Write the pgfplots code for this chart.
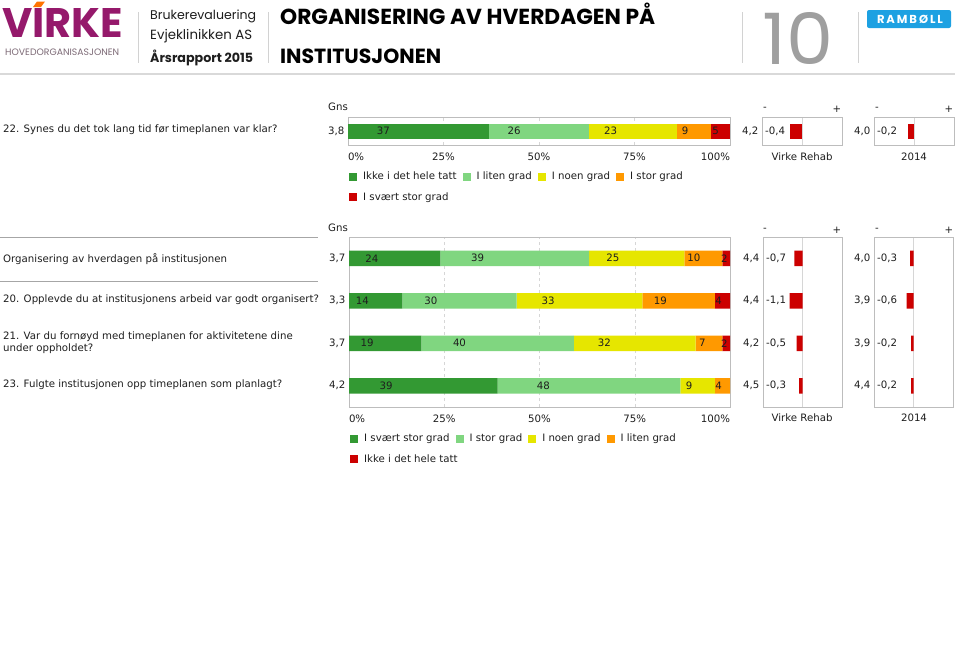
\documentclass[border=0pt]{standalone}
\usepackage{fontspec}
\setmainfont{DejaVu Sans}
\newfontfamily\hdr{Poppins}
\usepackage{graphicx}
\usepackage{pgfplots}
\pgfplotsset{compat=1.18}
\definecolor{cDG}{HTML}{339933}
\definecolor{cLG}{HTML}{80D680}
\definecolor{cY}{HTML}{E6E600}
\definecolor{cO}{HTML}{FF9900}
\definecolor{cR}{HTML}{CC0000}
\definecolor{framec}{HTML}{BDBDBD}
\definecolor{gridc}{HTML}{D6D6D6}
\definecolor{virke}{HTML}{95196B}
\definecolor{virkegray}{HTML}{7D6A76}
\definecolor{ramb}{HTML}{1DA1E2}
\definecolor{txt}{HTML}{1E1E1E}

\newcommand\fs{\fontsize{10.2}{12}\selectfont}
\def\nscale{0.955pt}

\pgfplotsset{
  sqlegend/.style={legend image code/.code={\path[##1] (0pt,-4pt) rectangle (8pt,4pt);}},
  base/.style={
    scale only axis, clip=false, anchor=north west,
    axis line style={framec},
    major tick length=0pt,
    tick style={draw=none},
    tick label style={font=\fs, text=txt},
    /pgf/number format/assume math mode=true,
  },
  stackbar/.style={
    base, xbar stacked,
    xmin=0, xmax=100,
    xmajorgrids, grid style={gridc, dashed},
    xtick={0,25,50,75,100},
    xticklabels={\makebox[0pt][l]{0\%},25\%,50\%,75\%,\makebox[0pt][r]{100\%}},
    xticklabel style={yshift=-4pt},
    point meta=explicit symbolic,
    nodes near coords={\pgfmathsetlengthmacro\nshift{-\nscale*\pgfplotspointmeta}\rlap{\hspace*{\nshift}\makebox[0pt]{\pgfplotspointmeta}}},
    nodes near coords style={anchor=center, text=txt, font=\fs, inner sep=0pt},
    legend columns=4,
    legend cell align=left,
    legend style={draw=none, fill=none, inner sep=0pt, at={(0,0)}, anchor=north west,
      xshift=1pt, yshift=-25pt, column sep=4pt, row sep=7pt,
      font=\fs, text=txt},
  },
  diffbar/.style={
    base, xbar,
    xtick={0}, xticklabels={}, xmajorgrids, grid style={gridc},
  },
}

\begin{document}
\fs
\begin{tikzpicture}[x=1pt,y=1pt]
\path[use as bounding box, fill=white] (0,0) rectangle (960,-659);

% ---------------- header ----------------
\node[anchor=south west, inner sep=0] at (2,-38) {\color{virke}\resizebox{121pt}{29pt}{\hdr\bfseries VIRKE}};
\fill[orange!90!red] (33,-7) -- (37,-1.5) -- (45,-1.5) -- (41,-7) -- cycle;
\node[anchor=west, inner sep=0] at (5,-52) {\color{virkegray}\resizebox{114pt}{!}{\hdr HOVEDORGANISASJONEN}};
\draw[gray!35, line width=0.8pt] (138,-12) -- (138,-63);
\draw[gray!35, line width=0.8pt] (268,-12) -- (268,-63);
\draw[gray!35, line width=0.8pt] (742,-12) -- (742,-63);
\draw[gray!35, line width=0.8pt] (858,-12) -- (858,-63);
\node[anchor=west, inner sep=0] at (150,-16) {\color{txt}\resizebox{106pt}{!}{\hdr Brukerevaluering}};
\node[anchor=west, inner sep=0] at (150,-36) {\color{txt}\resizebox{102pt}{!}{\hdr Evjeklinikken AS}};
\node[anchor=base west, inner sep=0] at (150,-62) {\color{txt}\resizebox{103pt}{!}{\hdr\bfseries Årsrapport 2015}};
\node[anchor=base west, inner sep=0] at (280,-24) {\color{black}\resizebox{375pt}{!}{\hdr\bfseries ORGANISERING AV HVERDAGEN PÅ}};
\node[anchor=base west, inner sep=0] at (280,-63) {\color{black}\resizebox{161pt}{!}{\hdr\bfseries INSTITUSJONEN}};
\node[anchor=base west, inner sep=0] at (762,-64) {\color{gray!75}\resizebox{71pt}{52pt}{\hdr 10}};
\fill[ramb, rounded corners=2pt] (867,-10) rectangle (951,-28);
\node[inner sep=0] at (910,-19) {\color{white}\resizebox{66pt}{!}{\hdr\bfseries R\,A\,M\,B\,Ø\,L\,L}};
\draw[gray!30, line width=1.6pt] (0,-74) -- (955,-74);

% ---------------- top block ----------------
\node[anchor=west, inner sep=0, text=txt] at (3,-130) {22. Synes du det tok lang tid før timeplanen var klar?};
\node[anchor=west, inner sep=0, text=txt] at (328,-107) {Gns};
\foreach \xx/\ss in {765/-,837/+,877/-,949/+} {\node[text=txt] at (\xx,-109) {\ss};}
\node[text=txt] at (802,-157) {Virke Rehab};
\node[text=txt] at (914,-157) {2014};

\begin{axis}[stackbar, at={(348pt,-117pt)}, width=382pt, height=28pt,
  ymin=0.5, ymax=1.5, ytick={1}, yticklabels={{3{,}8}}, bar width=15pt]
\addplot[fill=cDG, draw=none, sqlegend] coordinates {(37,1) [37]};
\addlegendentry{Ikke i det hele tatt}
\addplot[fill=cLG, draw=none, sqlegend] coordinates {(26,1) [26]};
\addlegendentry{I liten grad}
\addplot[fill=cY, draw=none, sqlegend] coordinates {(23,1) [23]};
\addlegendentry{I noen grad}
\addplot[fill=cO, draw=none, sqlegend] coordinates {(9,1) [9]};
\addlegendentry{I stor grad}
\addplot[fill=cR, draw=none, sqlegend] coordinates {(5,1) [5]};
\addlegendentry{I svært stor grad}
\end{axis}

\begin{axis}[diffbar, at={(762pt,-117pt)}, width=80pt, height=28pt,
  xmin=-1.33, xmax=1.33, ymin=0.5, ymax=1.5, ytick={1}, yticklabels={{4{,}2}}]
\addplot[fill=cR, draw=none, bar width=15pt] coordinates {(-0.4,1)};
\node[anchor=west, inner sep=3pt, text=txt] at (axis cs:-1.33,1) {-0,4};
\end{axis}
\begin{axis}[diffbar, at={(874pt,-117pt)}, width=80pt, height=28pt,
  xmin=-1.33, xmax=1.33, ymin=0.5, ymax=1.5, ytick={1}, yticklabels={{4{,}0}}]
\addplot[fill=cR, draw=none, bar width=15pt] coordinates {(-0.2,1)};
\node[anchor=west, inner sep=3pt, text=txt] at (axis cs:-1.33,1) {-0,2};
\end{axis}

% ---------------- lower block ----------------
\draw[gray!70, line width=0.8pt] (0,-237) -- (318,-237);
\draw[gray!70, line width=0.8pt] (0,-281) -- (318,-281);
\node[anchor=west, inner sep=0, text=txt] at (3,-259) {Organisering av hverdagen på institusjonen};
\node[anchor=west, inner sep=0, text=txt] at (3,-300) {20. Opplevde du at institusjonens arbeid var godt organisert?};
\node[anchor=west, inner sep=0, text=txt] at (3,-337) {21. Var du fornøyd med timeplanen for aktivitetene dine};
\node[anchor=west, inner sep=0, text=txt] at (3,-349) {under oppholdet?};
\node[anchor=west, inner sep=0, text=txt] at (3,-385) {23. Fulgte institusjonen opp timeplanen som planlagt?};
\node[anchor=west, inner sep=0, text=txt] at (328,-228) {Gns};
\foreach \xx/\ss in {765/-,837/+,877/-,949/+} {\node[text=txt] at (\xx,-230) {\ss};}
\node[text=txt] at (802,-418) {Virke Rehab};
\node[text=txt] at (914,-418) {2014};

\def\nscale{0.9525pt}
\begin{axis}[stackbar, at={(349pt,-237pt)}, width=381pt, height=170pt,
  ymin=0.5, ymax=4.5, ytick={1,2,3,4}, yticklabels={{4{,}2},{3{,}7},{3{,}3},{3{,}7}},
  bar width=15.5pt]
\addplot[fill=cDG, draw=none, sqlegend] coordinates {(24,4) [24] (14,3) [14] (19,2) [19] (39,1) [39]};
\addlegendentry{I svært stor grad}
\addplot[fill=cLG, draw=none, sqlegend] coordinates {(39,4) [39] (30,3) [30] (40,2) [40] (48,1) [48]};
\addlegendentry{I stor grad}
\addplot[fill=cY, draw=none, sqlegend] coordinates {(25,4) [25] (33,3) [33] (32,2) [32] (9,1) [9]};
\addlegendentry{I noen grad}
\addplot[fill=cO, draw=none, sqlegend] coordinates {(10,4) [10] (19,3) [19] (7,2) [7] (4,1) [4]};
\addlegendentry{I liten grad}
\addplot[fill=cR, draw=none, sqlegend] coordinates {(2,4) [2] (4,3) [4] (2,2) [2]};
\addlegendentry{\makebox[0pt][l]{Ikke i det hele tatt}}
\end{axis}

\begin{axis}[diffbar, at={(763pt,-237pt)}, width=79pt, height=170pt,
  xmin=-3.4, xmax=3.4, ymin=0.5, ymax=4.5, ytick={1,2,3,4},
  yticklabels={{4{,}5},{4{,}2},{4{,}4},{4{,}4}}]
\addplot[fill=cR, draw=none, bar width=15.5pt] coordinates {(-0.7,4) (-1.1,3) (-0.5,2) (-0.3,1)};
\node[anchor=west, inner sep=3pt, text=txt] at (axis cs:-3.4,4) {-0,7};
\node[anchor=west, inner sep=3pt, text=txt] at (axis cs:-3.4,3) {-1,1};
\node[anchor=west, inner sep=3pt, text=txt] at (axis cs:-3.4,2) {-0,5};
\node[anchor=west, inner sep=3pt, text=txt] at (axis cs:-3.4,1) {-0,3};
\end{axis}
\begin{axis}[diffbar, at={(874pt,-237pt)}, width=79pt, height=170pt,
  xmin=-3.4, xmax=3.4, ymin=0.5, ymax=4.5, ytick={1,2,3,4},
  yticklabels={{4{,}4},{3{,}9},{3{,}9},{4{,}0}}]
\addplot[fill=cR, draw=none, bar width=15.5pt] coordinates {(-0.3,4) (-0.6,3) (-0.2,2) (-0.2,1)};
\node[anchor=west, inner sep=3pt, text=txt] at (axis cs:-3.4,4) {-0,3};
\node[anchor=west, inner sep=3pt, text=txt] at (axis cs:-3.4,3) {-0,6};
\node[anchor=west, inner sep=3pt, text=txt] at (axis cs:-3.4,2) {-0,2};
\node[anchor=west, inner sep=3pt, text=txt] at (axis cs:-3.4,1) {-0,2};
\end{axis}
\end{tikzpicture}
\end{document}
